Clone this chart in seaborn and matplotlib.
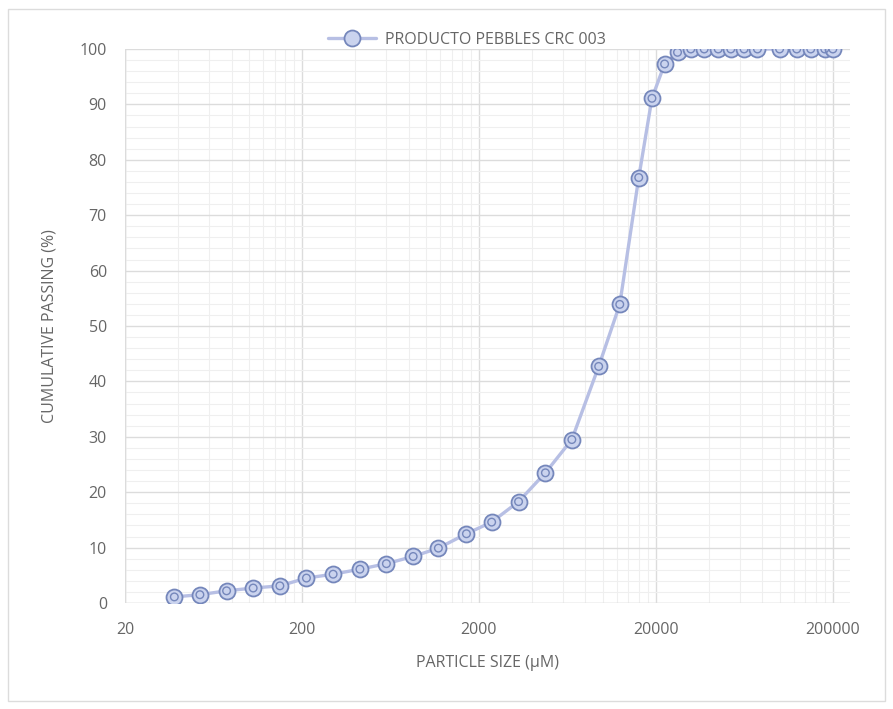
import numpy as np
import pandas as pd
import matplotlib
matplotlib.use("Agg")
import matplotlib.pyplot as plt
from matplotlib.ticker import FixedLocator, FuncFormatter
from matplotlib.patches import Rectangle
import seaborn as sns

# Sieve sizes (micrometres) and cumulative passing (%)
size_um = [38, 53, 75, 106, 150, 212, 300, 425, 600, 850, 1180, 1700, 2360,
           3350, 4750, 6700, 9500, 12500, 16000, 19000, 22400, 26500, 31500,
           37500, 45000, 53000, 63000, 75000, 100000, 125000, 150000, 180000,
           200000]
passing = [1.1, 1.5, 2.2, 2.7, 3.1, 4.5, 5.2, 6.1, 7.1, 8.4, 9.9, 12.5, 14.6,
           18.3, 23.5, 29.5, 42.7, 53.9, 76.8, 91.1, 97.3, 99.4, 100.0,
           100.0, 100.0, 100.0, 100.0, 100.0, 100.0, 100.0, 100.0, 100.0,
           100.0]
series_name = "PRODUCTO PEBBLES CRC 003"
x_major = [20, 200, 2000, 20000, 200000]
y_major = list(range(0, 101, 10))

df = pd.DataFrame({"size": size_um, "passing": passing})

sns.set_theme(style="white")
plt.rcParams["font.family"] = ["Open Sans", "DejaVu Sans"]

text_col = "#666666"
line_col = "#b7bfe4"
edge_col = "#7587bb"
fill_col = "#cad3ee"
fs = 11.5

fig = plt.figure(figsize=(8.93, 7.09), dpi=100)
ax = fig.add_axes([125 / 893, 1 - 603 / 709, (850 - 125) / 893, (603 - 49) / 709])

sns.lineplot(data=df, x="size", y="passing", ax=ax, color=line_col,
             linewidth=2.4, marker="o", markersize=11.5,
             markerfacecolor=fill_col, markeredgecolor=edge_col,
             markeredgewidth=1.3, label=series_name, legend=False, zorder=3)
# inner ring of each marker
sns.scatterplot(data=df, x="size", y="passing", ax=ax, s=30,
                facecolor="none", edgecolor=edge_col, linewidth=1.0,
                legend=False, zorder=4)

ax.set_xscale("log")
ax.set_xlim(20, 250000)
ax.set_ylim(0, 100)

ax.xaxis.set_major_locator(FixedLocator(x_major))
ax.xaxis.set_major_formatter(FuncFormatter(lambda v, p: f"{int(round(v))}"))
minor_x = [b * m for b in x_major for m in range(2, 10) if b * m < 250000]
ax.xaxis.set_minor_locator(FixedLocator(minor_x))
ax.xaxis.set_minor_formatter(FuncFormatter(lambda v, p: ""))
ax.yaxis.set_major_locator(FixedLocator(y_major))
ax.yaxis.set_minor_locator(FixedLocator(list(range(0, 101, 2))))

ax.grid(which="major", color="#dcdcdc", linewidth=1.0)
ax.grid(which="minor", color="#efefef", linewidth=0.8)
ax.set_axisbelow(True)
for s in ax.spines.values():
    s.set_visible(False)
ax.axvline(20, color="#dcdcdc", linewidth=1.0, zorder=1)
ax.axhline(0, color="#dcdcdc", linewidth=1.0, zorder=1)

ax.tick_params(which="both", length=0, labelsize=fs, labelcolor=text_col)
ax.tick_params(axis="x", pad=14)
ax.tick_params(axis="y", pad=13)

ax.set_xlabel("PARTICLE SIZE (µM)", fontsize=fs, color=text_col, labelpad=12)
ax.set_ylabel("CUMULATIVE PASSING (%)", fontsize=fs, color=text_col, labelpad=16)

handles, labels = ax.get_legend_handles_labels()
fig.legend(handles, labels, loc="center", bbox_to_anchor=(467 / 893, 1 - 40 / 709),
           frameon=False, fontsize=fs, labelcolor=text_col, handlelength=3.0,
           handletextpad=0.6)

fig.patches.append(Rectangle((8 / 893, 8 / 709), 877 / 893, 692 / 709,
                             transform=fig.transFigure, fill=False,
                             edgecolor="#dcdcdc", linewidth=1.0))

fig.savefig("out.png", dpi=100, facecolor="white")
